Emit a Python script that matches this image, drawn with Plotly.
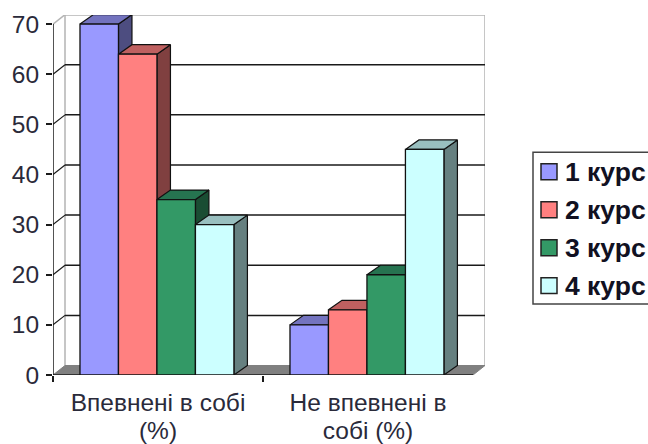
import plotly.graph_objects as go

categories = ["Впевнені в собі", "Не впевнені в"]
categories_line2 = ["(%)", "собі (%)"]
category_pos = [0.5, 1.5]
series_names = ["1 курс", "2 курс", "3 курс", "4 курс"]
kurs_1 = [70, 10]
kurs_2 = [64, 13]
kurs_3 = [35, 20]
kurs_4 = [30, 45]
y_ticks = [0, 10, 20, 30, 40, 50, 60, 70]

series = [kurs_1, kurs_2, kurs_3, kurs_4]
front = ["#9999FF", "#FF8080", "#339966", "#CCFFFF"]
top = ["#7373BF", "#BF6060", "#267350", "#99BFBF"]
side = ["#4D4D80", "#804040", "#1A4D33", "#668080"]

PX_X = 210.0
PX_Y = 5.02
L, T, R, B = 53, 14.5, 485, 375
xmax = (R - L) / PX_X
ymax = (B - T) / PX_Y
wall_dx = 12 / PX_X
dy = 9.5 / PX_Y
bar_dx = 13.5 / PX_X
gap = 0.267
bar_w = (1 - gap) / 4
shift = -0.005
INK = "#1a1a1a"
WALLC = "#b4b4b4"
TXT = "#2a2a3a"

fig = go.Figure()


def poly(xs, ys, fill, line="#111111", width=1.2):
    fig.add_trace(go.Scatter(x=xs, y=ys, mode="lines", fill="toself", fillcolor=fill,
                             line=dict(color=line, width=width), showlegend=False,
                             hoverinfo="skip"))


def line(xs, ys, color, width=1.5):
    fig.add_trace(go.Scatter(x=xs, y=ys, mode="lines", line=dict(color=color, width=width),
                             showlegend=False, hoverinfo="skip"))


# back wall and floor
line([wall_dx, wall_dx, xmax, xmax], [dy, ymax, ymax, dy], WALLC, 1.5)
poly([0, wall_dx, xmax, 2, 0], [0, dy, dy, 0, 0], "#808080", "#808080", 1)
# gridlines with their slanted return to the axis
for v in y_ticks[1:]:
    if v + dy < ymax - 0.5:
        line([0, wall_dx], [v, v + dy], INK, 1.2)
        line([wall_dx, xmax], [v + dy, v + dy], INK, 1.5)
    else:
        line([0, wall_dx], [v, v + dy], WALLC, 1.5)

# tops and sides of the bars
for c, cx in enumerate(category_pos):
    start = cx + shift - 2 * bar_w
    for i, vals in enumerate(series):
        x0 = start + i * bar_w
        x1 = x0 + bar_w
        v = vals[c]
        poly([x1, x1 + bar_dx, x1 + bar_dx, x1, x1], [0, dy, v + dy, v, 0], side[i])
        poly([x0, x0 + bar_dx, x1 + bar_dx, x1, x0], [v, v + dy, v + dy, v, v], top[i])

# front faces on the overlay axes
for i, vals in enumerate(series):
    fig.add_trace(go.Bar(x=[p + shift for p in category_pos], y=vals, name=series_names[i],
                         marker=dict(color=front[i], line=dict(color="#111111", width=1.3)),
                         xaxis="x2", yaxis="y2", showlegend=False))

font = dict(family="Liberation Sans, Arial, sans-serif", size=24.5, color=TXT)
fig.update_layout(
    width=648, height=444,
    margin=dict(l=L, r=648 - R, t=T, b=444 - B, autoexpand=False),
    paper_bgcolor="white", plot_bgcolor="white",
    barmode="group", bargap=gap, bargroupgap=0,
    font=font,
    showlegend=False,
    xaxis=dict(range=[0, xmax], tickvals=category_pos, ticktext=categories,
               ticks="", showgrid=False, zeroline=False, showline=False, tickfont=font,
               ticklabelstandoff=10,
               minor=dict(tickvals=[0, 1], ticks="outside", ticklen=6, tickwidth=1.5,
                          tickcolor=INK, showgrid=False)),
    yaxis=dict(range=[0, ymax], tickvals=y_ticks, ticks="outside", ticklen=6, tickwidth=1.5,
               tickcolor=INK, showgrid=False, zeroline=False, showline=False,
               ticklabelstandoff=2, tickfont=font),
    xaxis2=dict(range=[0, xmax], overlaying="x", side="bottom", anchor="y2",
                tickvals=category_pos, ticktext=categories_line2, ticks="",
                showgrid=False, zeroline=False, showline=False, tickfont=font,
                ticklabelstandoff=38),
    yaxis2=dict(range=[0, ymax], overlaying="y", showticklabels=False, ticks="",
                showgrid=False, zeroline=False, showline=False),
)
# axis lines drawn through the data scale
line([0, 0], [0, 70], INK, 1.5)
line([0, 2], [0, 0], INK, 1.5)


# legend box running off the right edge, as in the reference
def px(x):
    return (x - L) / (R - L)


def py(y):
    return (B - y) / (B - T)


fig.add_shape(type="rect", xref="paper", yref="paper", x0=px(533), x1=px(660), y0=py(304), y1=py(152),
              line=dict(color="#444444", width=1.5), fillcolor="white")
for i, name in enumerate(series_names):
    yc = 171.5 + i * 38
    fig.add_shape(type="rect", xref="paper", yref="paper", x0=px(541), x1=px(557),
                  y0=py(yc + 8), y1=py(yc - 8), fillcolor=front[i],
                  line=dict(color="#222222", width=1.5))
    fig.add_annotation(xref="paper", yref="paper", x=px(563), y=py(yc), xanchor="left", yanchor="middle",
                       text=name, showarrow=False,
                       font=dict(family=font["family"], size=26.5, color="#111122", weight="bold"))

fig.write_html("out.html", post_script="document.body.style.margin='0';",
               config={"displayModeBar": False})
